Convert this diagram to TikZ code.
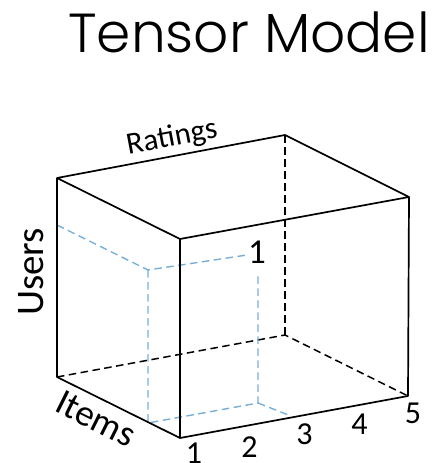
\documentclass[tikz,border=0pt]{standalone}
\usepackage{fontspec}
\setmainfont{Carlito}
\newfontfamily\titlefont{Poppins Light}
\definecolor{sliceblue}{HTML}{78AFD9}
\begin{document}
\begin{tikzpicture}[x=1pt,y=-1pt,
  edge/.style={black,line width=1.7pt,line join=round},
  hidden/.style={black,line width=1.5pt,dash pattern=on 7.5pt off 4.5pt},
  slice/.style={sliceblue,line width=1.4pt,dash pattern=on 7.5pt off 4.5pt},
  lbl/.style={inner sep=0pt,font=\fontsize{32}{32}\selectfont}]
\useasboundingbox (0,0) rectangle (431,463);
% box corners
\coordinate (A) at (57,178);
\coordinate (B) at (285,135);
\coordinate (C) at (409,197);
\coordinate (D) at (180,239);
\coordinate (A1) at (57,377);
\coordinate (B1) at (285,335);
\coordinate (C1) at (408,396);
\coordinate (D1) at (180,438);
% slice
\coordinate (P1) at (57,225);
\coordinate (P2) at (148,270);
\coordinate (P3) at (247,255);
\coordinate (P4) at (148,423);
\coordinate (P5) at (258,403);
\coordinate (P6) at (258,272);
\coordinate (P7) at (291,416);
% hidden edges
\draw[hidden] (B) -- (B1);
\draw[hidden] (A1) -- (B1) -- (C1);
% slice lines
\draw[slice] (P1) -- (P2) -- (P3);
\draw[slice] (P2) -- (P4) -- (P5) -- (P6);
\draw[slice] (P5) -- (P7);
% visible edges
\draw[edge] (A) -- (B) -- (C) -- (D) -- cycle;
\draw[edge] (A) -- (A1) -- (D1) -- (C1) -- (C);
\draw[edge] (D) -- (D1);
% title
\node[anchor=base,inner sep=0pt,font=\titlefont\fontsize{55}{55}\selectfont] (title) at (249,52) {Tensor Model};
% labels
\node[lbl,font=\fontsize{31}{31}\selectfont,rotate=10.7] (ratings) at (172,138) {Ratings};
\node[lbl,font=\fontsize{39}{39}\selectfont,rotate=90] (users) at (31,272) {Users};
\node[lbl,font=\fontsize{37}{37}\selectfont,rotate=-26.5] (items) at (96,419) {Items};
\node[lbl,font=\fontsize{35}{35}\selectfont] (one) at (257,252) {1};
\node[lbl] (n1) at (194,453) {1};
\node[lbl] (n2) at (249.5,447) {2};
\node[lbl] (n3) at (304.5,434.5) {3};
\node[lbl] (n4) at (359.5,424) {4};
\node[lbl] (n5) at (413,413) {5};
\end{tikzpicture}
\end{document}
